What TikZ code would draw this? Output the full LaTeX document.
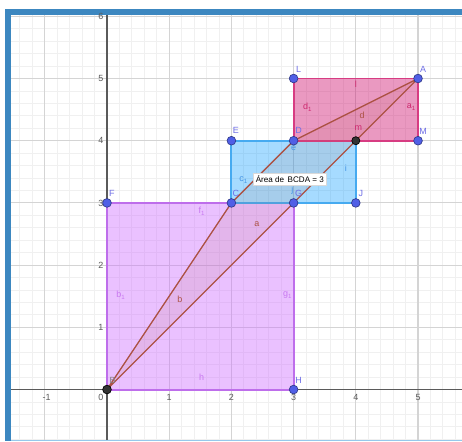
\documentclass[tikz,border=0pt]{standalone}
\usepackage{fontspec}
\setmainfont{Liberation Sans}
\definecolor{frameblue}{RGB}{60,135,192}
\definecolor{lightframe}{RGB}{150,200,235}
\definecolor{minorg}{RGB}{240,240,240}
\definecolor{majorg}{RGB}{212,212,212}
\definecolor{axisc}{RGB}{90,90,90}
\definecolor{vio}{RGB}{204,102,255}
\definecolor{viod}{RGB}{190,110,235}
\definecolor{viol}{RGB}{200,120,240}
\definecolor{skyb}{RGB}{0,153,255}
\definecolor{skyd}{RGB}{70,170,240}
\definecolor{skyl}{RGB}{70,150,230}
\definecolor{rosef}{RGB}{204,0,102}
\definecolor{rosed}{RGB}{215,60,130}
\definecolor{rosel}{RGB}{205,40,110}
\definecolor{brownl}{RGB}{172,82,68}
\definecolor{ptblue}{RGB}{80,95,230}
\definecolor{ptlab}{RGB}{110,110,230}
\newcommand{\ggsub}[1]{\raisebox{-0.4ex}{\fontsize{2.8}{3}\selectfont #1}}
\tikzset{
  ggfont/.style={font=\fontsize{4.1}{5}\selectfont},
  ticklab/.style={ggfont, text=axisc, inner sep=0pt},
  ptlabel/.style={ggfont, text=ptlab, inner sep=0pt},
  violab/.style={ggfont, text=viol, inner sep=0pt},
  bluelab/.style={ggfont, text=skyl, inner sep=0pt},
  roselab/.style={ggfont, text=rosel, inner sep=0pt},
  brownlab/.style={ggfont, text=brownl, inner sep=0pt},
  ggpt/.style={fill=ptblue, draw=ptblue!60!black, line width=0.3pt},
  blackpt/.style={fill=black!80, draw=black, line width=0.3pt},
}
\begin{document}
\begin{tikzpicture}
\useasboundingbox (-1.720,-0.828) rectangle (5.707,6.262);
\fill[white] (-1.720,-0.828) rectangle (5.707,6.262);
% grid
\begin{scope}
\clip (-1.543,-0.80) rectangle (5.707,6.021);
\draw[minorg, line width=0.4pt] (-2,-1) grid[step=0.2] (6,7);
\draw[majorg, line width=0.5pt] (-2,-1) grid[step=1] (6,7);
\draw[axisc, line width=0.6pt] (-2,0) -- (6,0);
\draw[axisc, line width=0.6pt] (0,-1) -- (0,7);
\end{scope}
% frame
\fill[frameblue] (-1.640,6.021) rectangle (5.707,6.117);
\fill[frameblue] (-1.640,-0.828) rectangle (-1.543,6.117);
\fill[lightframe] (-1.543,-0.828) rectangle (5.707,-0.805);
% tick labels
\node[ticklab] (tx1) at (-0.97,-0.12) {-1};
\node[ticklab] (tx0) at (-0.10,-0.12) {0};
\node[ticklab] (tx2) at (1,-0.12) {1};
\node[ticklab] (tx3) at (2,-0.12) {2};
\node[ticklab] (tx4) at (3,-0.12) {3};
\node[ticklab] (tx5) at (4,-0.12) {4};
\node[ticklab] (tx6) at (5,-0.12) {5};
\node[ticklab] (ty1) at (-0.10,1) {1};
\node[ticklab] (ty2) at (-0.10,2) {2};
\node[ticklab] (ty3) at (-0.10,3) {3};
\node[ticklab] (ty4) at (-0.10,4) {4};
\node[ticklab] (ty5) at (-0.10,5) {5};
\node[ticklab] (ty6) at (-0.10,6) {6};
% points
\coordinate (B) at (0,0);
\coordinate (H) at (3,0);
\coordinate (F) at (0,3);
\coordinate (C) at (2,3);
\coordinate (G) at (3,3);
\coordinate (J) at (4,3);
\coordinate (E) at (2,4);
\coordinate (D) at (3,4);
\coordinate (I) at (4,4);
\coordinate (M) at (5,4);
\coordinate (L) at (3,5);
\coordinate (A) at (5,5);
% polygons
\fill[vio, fill opacity=0.4] (B) -- (H) -- (G) -- (F) -- cycle;
\draw[viod, line width=0.9pt] (B) -- (H) -- (G) -- (F) -- cycle;
\fill[skyb, fill opacity=0.35] (C) -- (J) -- (I) -- (E) -- cycle;
\draw[skyd, line width=0.9pt] (C) -- (J) -- (I) -- (E) -- cycle;
\fill[rosef, fill opacity=0.4] (D) -- (M) -- (A) -- (L) -- cycle;
\draw[rosed, line width=0.9pt] (D) -- (M) -- (A) -- (L) -- cycle;
\fill[brownl, fill opacity=0.1] (B) -- (C) -- (D) -- (A) -- cycle;
\draw[brownl, line width=0.6pt, line join=round] (B) -- (C) -- (D) -- (A) -- cycle;
% segment labels
\node[violab] (lf1) at (1.52,2.86) {f\ggsub{1}};
\node[violab] (lb1) at (0.22,1.52) {b\ggsub{1}};
\node[violab] (lh) at (1.52,0.20) {h};
\node[violab] (lg1) at (2.90,1.52) {g\ggsub{1}};
\node[bluelab] (lc1) at (2.19,3.37) {c\ggsub{1}};
\node[bluelab] (li) at (3.84,3.56) {i};
\node[bluelab] (le) at (3.00,3.88) {e};
\node[bluelab] (lj) at (2.98,3.20) {j};
\node[roselab] (ll) at (4.00,4.90) {l};
\node[roselab] (ld1) at (3.22,4.54) {d\ggsub{1}};
\node[roselab] (la1) at (4.89,4.54) {a\ggsub{1}};
\node[roselab] (lm) at (4.04,4.20) {m};
\node[brownlab] (lb) at (1.17,1.45) {b};
\node[brownlab] (la) at (2.41,2.66) {a};
\node[brownlab] (ld) at (4.10,4.41) {d};
% area box
\node[font=\fontsize{3.7}{4}\selectfont, fill=white, draw=black!15, line width=0.3pt, inner xsep=1pt, inner ysep=1.3pt] (area) at (2.94,3.38) {Área de\, BCDA = 3};
% point markers
\foreach \p in {H,F,C,G,J,E,D,M,L,A} \filldraw[ggpt] (\p) circle (0.07);
\filldraw[blackpt] (B) circle (0.07);
\filldraw[blackpt] (I) circle (0.065);
% point labels
\node[ptlabel] (nB) at (0.09,0.14) {\textcolor{black!50}{B}};
\node[ptlabel] (nH) at (3.08,0.15) {H};
\node[ptlabel] (nF) at (0.08,3.16) {F};
\node[ptlabel] (nC) at (2.07,3.16) {C};
\node[ptlabel] (nG) at (3.08,3.15) {G};
\node[ptlabel] (nJ) at (4.08,3.15) {J};
\node[ptlabel] (nE) at (2.07,4.16) {E};
\node[ptlabel] (nD) at (3.08,4.16) {D};
\node[ptlabel] (nM) at (5.08,4.15) {M};
\node[ptlabel] (nL) at (3.08,5.15) {L};
\node[ptlabel] (nA) at (5.08,5.15) {A};
\end{tikzpicture}
\end{document}
